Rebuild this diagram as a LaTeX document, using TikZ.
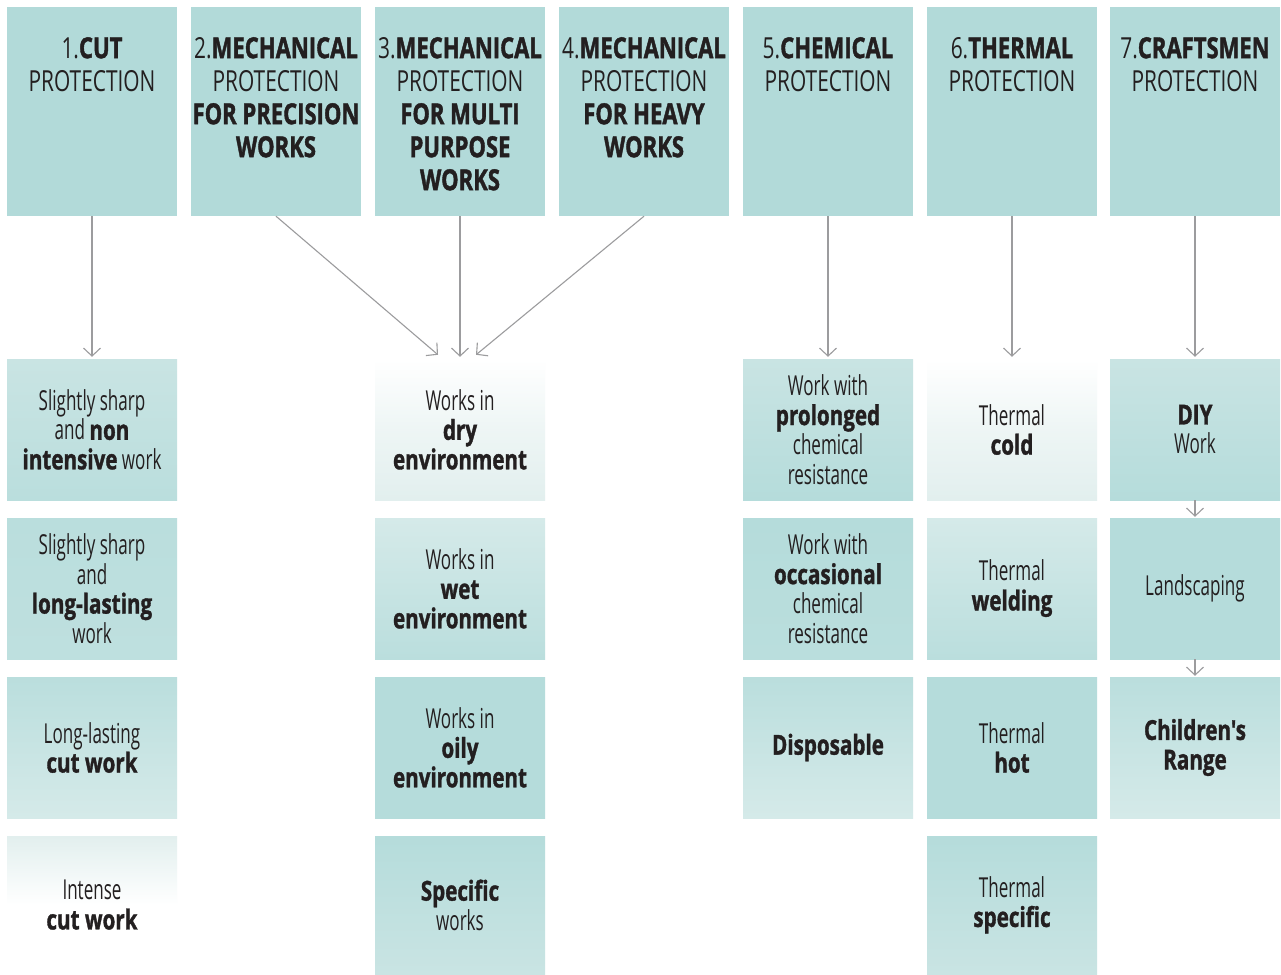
\documentclass[tikz,border=0pt]{standalone}
\usepackage{fontspec}
\setmainfont{Open Sans}[Ligatures=TeXOff, FakeStretch=0.62, BoldFeatures={FakeStretch=0.75,FakeBold=1.2}]
\newfontfamily\hfam{Open Sans}[Ligatures=TeXOff, FakeStretch=0.72, BoldFeatures={FakeStretch=0.76,FakeBold=1.4}]
\usetikzlibrary{arrows.meta,calc}
\definecolor{hdr}{HTML}{B2DAD9}
\definecolor{ink}{HTML}{231F20}
\definecolor{arr}{HTML}{9C9C9E}
\definecolor{tA}{HTML}{B5DCDB}
\definecolor{tB}{HTML}{BADEDD}
\definecolor{tC}{HTML}{C9E4E3}
\definecolor{tD}{HTML}{D5EAE9}
\definecolor{tE}{HTML}{E2EFEE}
\newcommand{\hfnt}{\hfam\fontsize{29}{33}\selectfont}
\newcommand{\bfnt}{\fontsize{27.5}{29.5}\selectfont}
\begin{document}
\begin{tikzpicture}[x=1pt,y=-1pt,
  hbox/.style={fill=hdr, draw=none, minimum width=170pt, minimum height=209pt, inner sep=0pt},
  htext/.style={anchor=north, inner sep=0pt, align=center, text=ink, font=\hfnt},
  lbox/.style 2 args={draw=none, top color=#1, bottom color=#2, minimum width=170pt, minimum height=141pt, inner sep=0pt, align=center, text=ink, font=\bfnt},
  conn/.style={draw=arr, line width=1.1pt, -{Straight Barb[length=8pt,width=17pt]}}]
\useasboundingbox (0,0) rectangle (1281,974);
\fill[white] (0,0) rectangle (1281,974);
% headers
\node[hbox] (h1) at (92,111.5) {};
\node[hbox] (h2) at (276,111.5) {};
\node[hbox] (h3) at (460,111.5) {};
\node[hbox] (h4) at (644,111.5) {};
\node[hbox] (h5) at (828,111.5) {};
\node[hbox] (h6) at (1012,111.5) {};
\node[hbox] (h7) at (1195,111.5) {};
\node[htext] (h1t) at (92,37) {1.\textbf{CUT}\\PROTECTION};
\node[htext] (h2t) at (276,37) {2.\textbf{MECHANICAL}\\PROTECTION\\\textbf{FOR PRECISION}\\\textbf{WORKS}};
\node[htext] (h3t) at (460,37) {3.\textbf{MECHANICAL}\\PROTECTION\\\textbf{FOR MULTI}\\\textbf{PURPOSE}\\\textbf{WORKS}};
\node[htext] (h4t) at (644,37) {4.\textbf{MECHANICAL}\\PROTECTION\\\textbf{FOR HEAVY}\\\textbf{WORKS}};
\node[htext] (h5t) at (828,37) {5.\textbf{CHEMICAL}\\PROTECTION};
\node[htext] (h6t) at (1012,37) {6.\textbf{THERMAL}\\PROTECTION};
\node[htext] (h7t) at (1195,37) {7.\textbf{CRAFTSMEN}\\PROTECTION};
% column 1
\node[lbox={tC}{tB}] (a1) at (92,429.5) {Slightly sharp\\and \textbf{non}\\\textbf{intensive} work};
\node[lbox={tB}{tB!70!tC}] (a2) at (92,588.5) {Slightly sharp\\and\\\textbf{long-lasting}\\work};
\node[lbox={tB}{tD}] (a3) at (92,747.5) {Long-lasting\\\textbf{cut work}};
\node[lbox={tE}{white}, middle color=white, minimum height=138pt] (a4) at (92,905) {Intense\\\textbf{cut work}};
% column 3
\node[lbox={white}{tE}, middle color=white!40!tE] (b1) at (460,429.5) {Works in\\\textbf{dry}\\\textbf{environment}};
\node[lbox={tD}{tB}] (b2) at (460,588.5) {Works in\\\textbf{wet}\\\textbf{environment}};
\node[lbox={tA}{tA}] (b3) at (460,747.5) {Works in\\\textbf{oily}\\\textbf{environment}};
\node[lbox={tA}{tC}, minimum height=138pt] (b4) at (460,905) {\textbf{Specific}\\works};
% column 5
\node[lbox={tC}{tA}] (c1) at (828,429.5) {Work with\\\textbf{prolonged}\\chemical\\resistance};
\node[lbox={tA}{tB}] (c2) at (828,588.5) {Work with\\\textbf{occasional}\\chemical\\resistance};
\node[lbox={tB}{tD}] (c3) at (828,747.5) {\textbf{Disposable}};
% column 6
\node[lbox={white}{tE}, middle color=white!40!tE] (d1) at (1012,429.5) {Thermal\\\textbf{cold}};
\node[lbox={tD}{tB}] (d2) at (1012,588.5) {Thermal\\\textbf{welding}};
\node[lbox={tA}{tA}] (d3) at (1012,747.5) {Thermal\\\textbf{hot}};
\node[lbox={tA}{tC}, minimum height=138pt] (d4) at (1012,905) {Thermal\\\textbf{specific}};
% column 7
\node[lbox={tC}{tA}] (e1) at (1195,429.5) {\textbf{DIY}\\Work};
\node[lbox={tA}{tA}] (e2) at (1195,588.5) {Landscaping};
\node[lbox={tB}{tD}] (e3) at (1195,747.5) {\textbf{Children's}\\\textbf{Range}};
% connectors
\coordinate (m2) at ($(b1.north)+(-22,-4)$);
\coordinate (m4) at ($(b1.north)+(16,-4)$);
\draw[conn, shorten >=2pt] (h1.south) -- (a1.north);
\draw[conn] (h2.south) -- (m2);
\draw[conn, shorten >=2pt] (h3.south) -- (b1.north);
\draw[conn] (h4.south) -- (m4);
\draw[conn, shorten >=2pt] (h5.south) -- (c1.north);
\draw[conn, shorten >=2pt] (h6.south) -- (d1.north);
\draw[conn, shorten >=2pt] (h7.south) -- (e1.north);
\draw[conn, shorten >=1pt] (e1.south) -- (e2.north);
\draw[conn, shorten >=1pt] (e2.south) -- (e3.north);
\end{tikzpicture}
\end{document}
